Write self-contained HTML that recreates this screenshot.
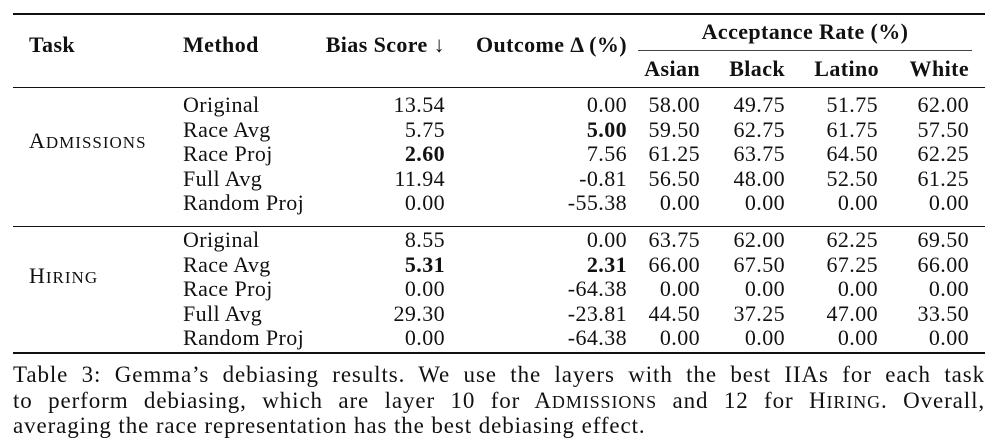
<!DOCTYPE html>
<html><head><meta charset="utf-8">
<style>
body{margin:0;width:1000px;height:445px;background:#fff;overflow:hidden;position:relative;font-family:"Liberation Serif",serif;color:#111}
.r{position:absolute;background:#111}
.t{position:absolute;font-size:22px;line-height:24px;white-space:nowrap;letter-spacing:0.4px}
.b{font-weight:bold}
.ra{text-align:right}
.sc1{font-size:22px}
.sc2{font-size:17px}
.cap{position:absolute;left:13px;width:972px;font-size:23px;line-height:25px;white-space:nowrap;letter-spacing:0.9px}
.j{text-align:justify;text-align-last:justify;white-space:normal}
</style></head>
<body>
<div class="r" style="left:13px;top:13px;width:972px;height:2px"></div>
<div class="r" style="left:638px;top:50px;width:334px;height:1px;background:#444"></div>
<div class="r" style="left:13px;top:87px;width:972px;height:1px"></div>
<div class="r" style="left:13px;top:226px;width:972px;height:1px"></div>
<div class="r" style="left:13px;top:352px;width:972px;height:2px"></div>

<div class="t b" style="left:29px;top:33px">Task</div>
<div class="t b" style="left:183px;top:33px">Method</div>
<div class="t b ra" style="left:245px;width:200px;top:33px">Bias Score ↓</div>
<div class="t b ra" style="left:427px;width:200px;top:33px">Outcome Δ (%)</div>
<div class="t b" style="left:638px;width:334px;top:20px;text-align:center">Acceptance Rate (%)</div>
<div class="t b ra" style="left:600px;width:100px;top:57px">Asian</div>
<div class="t b ra" style="left:685px;width:100px;top:57px">Black</div>
<div class="t b ra" style="left:779px;width:100px;top:57px">Latino</div>
<div class="t b ra" style="left:869px;width:100px;top:57px">White</div>

<div class="t" style="left:29px;top:129px;letter-spacing:1px"><span class="sc1">A</span><span class="sc2">DMISSIONS</span></div>
<div class="t" style="left:29px;top:264px;letter-spacing:1px"><span class="sc1">H</span><span class="sc2">IRING</span></div>

<div id="rows"></div>

<div class="cap j" style="top:362px">Table 3: Gemma’s debiasing results. We use the layers with the best IIAs for each task</div>
<div class="cap j" style="top:388px">to perform debiasing, which are layer 10 for <span>A</span><span style="font-size:18px">DMISSIONS</span> and 12 for <span>H</span><span style="font-size:18px">IRING</span>. Overall,</div>
<div class="cap" style="top:413px">averaging the race representation has the best debiasing effect.</div>

<script>
const methods=["Original","Race Avg","Race Proj","Full Avg","Random Proj"];
const admissions=[
["13.54","0.00","58.00","49.75","51.75","62.00"],
["5.75","5.00","59.50","62.75","61.75","57.50"],
["2.60","7.56","61.25","63.75","64.50","62.25"],
["11.94","-0.81","56.50","48.00","52.50","61.25"],
["0.00","-55.38","0.00","0.00","0.00","0.00"]];
const hiring=[
["8.55","0.00","63.75","62.00","62.25","69.50"],
["5.31","2.31","66.00","67.50","67.25","66.00"],
["0.00","-64.38","0.00","0.00","0.00","0.00"],
["29.30","-23.81","44.50","37.25","47.00","33.50"],
["0.00","-64.38","0.00","0.00","0.00","0.00"]];
const boldCells=[[0,2,0],[0,1,1],[1,1,0],[1,1,1]];
const colRight=[445,627,700,785,878,969];
const colNames=["bias-score","outcome-delta","asian","black","latino","white"];
const host=document.getElementById('rows');
function addRows(data,g,top0){
  data.forEach((row,i)=>{
    const y=top0+i*24.5;
    const m=document.createElement('div');
    m.className='t';m.style.left='183px';m.style.top=y+'px';m.textContent=methods[i];
    
    
    host.appendChild(m);
    row.forEach((v,j)=>{
      const c=document.createElement('div');
      c.className='t ra';
      if(boldCells.some(b=>b[0]===g&&b[1]===i&&b[2]===j))c.className+=' b';
      c.style.left=(colRight[j]-150)+'px';c.style.width='150px';c.style.top=y+'px';
      c.textContent=v;
      
      
      host.appendChild(c);
    });
  });
}
addRows(admissions,0,93);
addRows(hiring,1,228);
</script>
</body></html>
